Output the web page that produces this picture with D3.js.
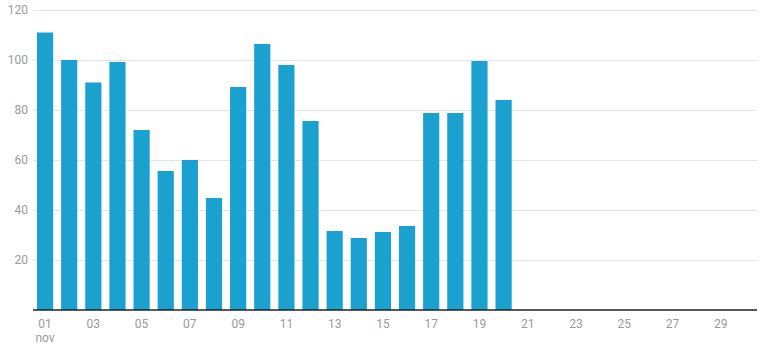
<!DOCTYPE html>
<html>
<head>
<meta charset="utf-8">
<script src="https://cdn.jsdelivr.net/npm/d3@7"></script>
<style>
  html, body { margin: 0; padding: 0; background: #fff; }
  svg { display: block; font-family: Roboto, "Noto Sans", sans-serif; }
</style>
</head>
<body>
<svg id="chart" width="765" height="347"></svg>
<script>
// Daily counts for November
const days = d3.range(1, 31).map(d => String(d).padStart(2, "0"));
const values = [111, 100, 91, 99.2, 72, 55.6, 60, 44.8, 89.2, 106.4,
                98, 75.6, 31.6, 28.8, 31.2, 33.6, 78.8, 78.8, 99.6, 84];
const yTicks = [20, 40, 60, 80, 100, 120];
const monthLabel = "nov";

const svg = d3.select("#chart");
const margin = { left: 33, right: 8, top: 10, bottom: 37 };
const W = 765, H = 347;

const x = d3.scaleBand()
  .domain(days)
  .range([margin.left, W - margin.right])
  .paddingInner(0.33)
  .paddingOuter(0.165);

const y = d3.scaleLinear()
  .domain([0, 120])
  .range([H - margin.bottom, margin.top]);

// horizontal gridlines
svg.append("g")
  .selectAll("line")
  .data(yTicks)
  .join("line")
  .attr("x1", margin.left)
  .attr("x2", W - margin.right)
  .attr("y1", d => Math.round(y(d)) + 0.5)
  .attr("y2", d => Math.round(y(d)) + 0.5)
  .attr("stroke", "#e4e4e4")
  .attr("stroke-width", 1);

// y-axis labels
const yAxis = d3.axisLeft(y).tickValues(yTicks).tickSize(0).tickPadding(5);
svg.append("g")
  .attr("transform", `translate(${margin.left},0)`)
  .call(yAxis)
  .call(g => g.select(".domain").remove())
  .call(g => g.selectAll("text")
    .attr("fill", "#9a9a9a")
    .attr("font-size", 12)
    .attr("font-family", "Roboto, sans-serif"));

// bars
svg.append("g")
  .selectAll("rect")
  .data(values)
  .join("rect")
  .attr("x", (d, i) => x(days[i]))
  .attr("width", x.bandwidth())
  .attr("y", d => y(d))
  .attr("height", d => y(0) - y(d))
  .attr("fill", "#1aa1cf");

// x-axis
const xAxis = d3.axisBottom(x)
  .tickValues(days.filter((d, i) => i % 2 === 0))
  .tickSize(0)
  .tickPadding(9);
svg.append("g")
  .attr("transform", `translate(0,${y(0)})`)
  .call(xAxis)
  .call(g => g.select(".domain")
    .attr("stroke", "#222")
    .attr("stroke-width", 1.3)
    .attr("d", `M${margin.left},0H${W - margin.right}`))
  .call(g => g.selectAll("text")
    .attr("fill", "#9a9a9a")
    .attr("font-size", 12)
    .attr("font-family", "Roboto, sans-serif"));

// month label under the first tick
svg.append("text")
  .attr("x", x(days[0]) + x.bandwidth() / 2)
  .attr("y", y(0) + 32)
  .attr("text-anchor", "middle")
  .attr("fill", "#9a9a9a")
  .attr("font-size", 12)
  .attr("font-family", "Roboto, sans-serif")
  .text(monthLabel);
</script>
</body>
</html>
